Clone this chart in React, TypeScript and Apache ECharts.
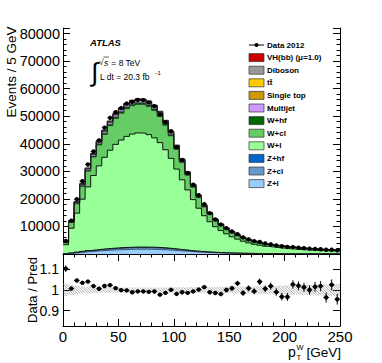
import React, { useEffect, useRef } from 'react';
import * as echarts from 'echarts';

// bin lower edges [GeV], 5 GeV bins
const binLow = [0,5,10,15,20,25,30,35,40,45,50,55,60,65,70,75,80,85,90,95,100,105,110,115,120,125,130,135,140,145,150,155,160,165,170,175,180,185,190,195,200,205,210,215,220,225,230,235,240,245];
const binWidth = 5;

// MC components (events / 5 GeV), stack order bottom -> top
const zl = [60,250,450,650,850,1000,1150,1280,1400,1500,1580,1650,1700,1720,1720,1700,1650,1580,1480,1350,1200,1050,900,770,650,550,470,400,340,290,250,215,185,160,140,125,110,100,90,82,75,68,62,57,52,48,44,41,38,35];
const zcl = [20,90,160,230,300,350,400,450,490,520,550,575,590,600,600,590,575,550,515,470,420,365,315,270,228,193,165,140,120,102,88,75,65,56,49,44,39,35,32,29,26,24,22,20,18,17,15,14,13,12];
const zhf = [8,30,55,80,100,120,140,155,170,180,190,198,204,206,206,204,198,190,178,162,144,126,108,92,78,66,56,48,41,35,30,26,22,19,17,15,13,12,11,10,9,8,7,7,6,6,5,5,4,4];
const wl = [3270,8990,14150,18930,23090,27000,30290,33200,35600,37580,39020,40240,41030,41390,41310,40800,39700,38080,35660,32730,29050,25370,21920,18600,15660,13080,11010,9320,8000,6900,5870,5070,4360,3790,3320,2970,2650,2410,2200,2000,1825,1690,1530,1430,1330,1225,1160,1090,1025,960];
const wcl = [735,2130,3410,4630,5700,6690,7530,8280,8870,9360,9720,10040,10240,10340,10320,10190,9920,9510,8890,8140,7190,6250,5370,4530,3780,3130,2620,2200,1870,1600,1450,1240,1140,980,910,810,770,700,640,620,565,525,505,470,435,405,380,360,340,315];
const whf = [50,130,210,280,340,400,450,490,530,560,580,600,610,615,615,610,595,570,535,490,440,385,335,285,240,200,170,145,125,108,94,82,72,63,56,50,45,41,37,34,31,29,27,25,23,21,20,19,18,17];
const multijet = [120,260,360,430,490,540,590,640,690,730,760,780,790,790,780,760,730,690,640,580,510,440,370,310,255,210,175,145,120,100,85,72,61,52,45,39,34,30,26,23,20,18,16,14,13,12,11,10,9,8];
const singleTop = [10,30,50,65,80,95,105,115,125,130,135,140,142,143,143,142,140,136,130,123,115,106,97,88,80,72,65,58,52,47,42,38,34,31,28,25,23,21,19,18,16,15,14,13,12,11,10,10,9,9];
const ttbar = [15,40,70,95,120,145,165,185,200,215,228,238,246,252,256,258,258,256,252,246,238,228,217,205,192,179,166,153,141,130,120,110,101,93,86,79,73,67,62,57,53,49,45,42,39,36,33,31,29,27];
const diboson = [15,45,75,100,125,145,165,180,195,205,215,222,226,228,228,226,222,215,205,193,180,165,150,136,122,109,97,87,78,70,63,57,52,47,43,39,36,33,30,28,26,24,22,21,19,18,17,16,15,14];
const vh = [1,3,5,7,9,11,13,15,16,17,18,19,20,20,20,20,20,19,19,18,17,16,15,14,13,12,11,10,9,8.5,8,7.5,7,6.5,6,5.5,5,4.7,4.4,4.1,3.8,3.5,3.3,3.1,2.9,2.7,2.5,2.4,2.3,2.2];

// Data 2012
const data2012 = [4750,12080,19870,26390,32480,37190,41250,45860,49410,51460,52950,54590,55190,55910,55810,55000,53620,50610,47820,44540,38750,34120,29380,25120,21340,18050,14840,12520,10680,9390,8170,7220,6010,5340,4670,4370,3820,3520,3120,2810,2560,2520,2300,2130,1950,1830,1730,1540,1540,1340];

// relative systematic uncertainty (hatched band in ratio)
const sysUnc = [0.03,0.025,0.02,0.018,0.016,0.015,0.014,0.013,0.013,0.012,0.012,0.012,0.012,0.012,0.012,0.012,0.012,0.012,0.012,0.012,0.013,0.013,0.013,0.014,0.014,0.014,0.015,0.015,0.015,0.016,0.016,0.017,0.017,0.018,0.018,0.019,0.019,0.02,0.02,0.021,0.022,0.022,0.023,0.024,0.025,0.026,0.027,0.028,0.029,0.03];

const xTicks = [0, 50, 100, 150, 200, 250];
const yTicksMain = [10000, 20000, 30000, 40000, 50000, 60000, 70000, 80000];
const yTicksRatio = [0.9, 1, 1.1];

const stackNames = ['Z+l', 'Z+cl', 'Z+hf', 'W+l', 'W+cl', 'W+hf', 'Multijet', 'Single top', 'tt\u0304', 'Diboson', 'VH(bb) (\u03bc=1.0)'];
const stackValues = [zl, zcl, zhf, wl, wcl, whf, multijet, singleTop, ttbar, diboson, vh];
const stackColors = ['#99ccff', '#6699cc', '#0066cc', '#99ff99', '#66cc66', '#006600', '#cc99ff', '#cc9900', '#ffcc00', '#999999', '#cc0000'];

const FONT = '"Liberation Sans", Arial, sans-serif';

function renderPoint(params: any, api: any) {
  const x0 = api.value(0), x1 = api.value(1), y = api.value(2), e = api.value(3);
  const xc = (x0 + x1) / 2;
  const pl = api.coord([x0, y]);
  const pr = api.coord([x1, y]);
  const pt = api.coord([xc, y + e]);
  const pb = api.coord([xc, y - e]);
  const c = api.coord([xc, y]);
  return {
    type: 'group',
    children: [
      { type: 'line', shape: { x1: pl[0], y1: pl[1], x2: pr[0], y2: pr[1] }, style: { stroke: '#000', lineWidth: 1 } },
      { type: 'line', shape: { x1: pt[0], y1: pt[1], x2: pb[0], y2: pb[1] }, style: { stroke: '#000', lineWidth: 1 } },
      { type: 'circle', shape: { cx: c[0], cy: c[1], r: 2.2 }, style: { fill: '#000' } },
    ],
  };
}

function renderBand(params: any, api: any) {
  const a = api.coord([api.value(0), api.value(3)]);
  const b = api.coord([api.value(1), api.value(2)]);
  const xL = a[0], xR = b[0], yT = a[1], yB = b[1];
  const sp = 2.6;
  const children: any[] = [];
  const cStart = Math.ceil((yT - xR) / sp) * sp;
  for (let c = cStart; c <= yB - xL; c += sp) {
    const xa = Math.max(xL, yT - c);
    const xb = Math.min(xR, yB - c);
    if (xb > xa) {
      children.push({ type: 'line', shape: { x1: xa, y1: xa + c, x2: xb, y2: xb + c }, style: { stroke: '#777', lineWidth: 0.6 } });
    }
  }
  return { type: 'group', children };
}

const fmt = (v: number) => String(Math.round(v * 1000) / 1000);

function buildOption() {
  const n = binLow.length;
  const pred = binLow.map((_, i) => stackValues.reduce((s, arr) => s + arr[i], 0));

  // cumulative tops of each stacked layer
  const cumulative: number[][] = [];
  stackValues.forEach((vals, si) => {
    cumulative.push(vals.map((v, i) => (si > 0 ? cumulative[si - 1][i] : 0) + v));
  });

  // draw top layer first, bottom layer last (each filled down to 0)
  const stackSeries = stackValues.map((_, si) => {
    const tops = cumulative[si];
    return {
      type: 'line',
      name: stackNames[si],
      xAxisIndex: 0,
      yAxisIndex: 0,
      step: 'end',
      symbol: 'none',
      silent: true,
      z: 2,
      lineStyle: { color: si === 3 || si === 2 ? '#000' : '#222', width: si === 3 || si === 2 ? 0.9 : 0.6 },
      areaStyle: { color: stackColors[si], opacity: 1, origin: 'start' },
      data: [...binLow.map((x, i) => [x, tops[i]]), [binLow[n - 1] + binWidth, tops[n - 1]]],
    };
  }).reverse();

  const mainPoints = binLow.map((x, i) => [x, x + binWidth, data2012[i], Math.sqrt(data2012[i])]);
  const ratioPoints = binLow.map((x, i) => [x, x + binWidth, data2012[i] / pred[i], Math.sqrt(data2012[i]) / pred[i]]);
  const bandData = binLow.map((x, i) => [x, x + binWidth, 1 - sysUnc[i], 1 + sysUnc[i]]);

  const axisLine = { show: true, lineStyle: { color: '#000', width: 1 } };

  const legendItems: any[] = [];
  const legX = 249;
  legendItems.push({ type: 'line', z: 100, shape: { x1: legX, y1: 45, x2: legX + 15, y2: 45 }, style: { stroke: '#000', lineWidth: 1 } });
  legendItems.push({ type: 'circle', z: 100, shape: { cx: legX + 7.5, cy: 45, r: 2 }, style: { fill: '#000' } });
  legendItems.push({ type: 'text', z: 100, x: 267, y: 45, style: { text: 'Data 2012', font: `bold 8px ${FONT}`, fill: '#000', textVerticalAlign: 'middle', verticalAlign: 'middle' } });
  const legendOrder = [10, 9, 8, 7, 6, 5, 4, 3, 2, 1, 0];
  legendOrder.forEach((si, k) => {
    const yc = 57.6 + 12.6 * k;
    legendItems.push({ type: 'rect', z: 100, shape: { x: legX, y: yc - 4, width: 15, height: 8 }, style: { fill: stackColors[si], stroke: '#333', lineWidth: 0.7 } });
    legendItems.push({ type: 'text', z: 100, x: 267, y: yc, style: { text: stackNames[si], font: `bold 8px ${FONT}`, fill: '#000', textVerticalAlign: 'middle', verticalAlign: 'middle' } });
  });

  const texts: any[] = [
    { type: 'text', x: 90, y: 42, style: { text: 'ATLAS', font: `italic bold 9.5px ${FONT}`, fill: '#000', textVerticalAlign: 'middle', verticalAlign: 'middle' } },
    { type: 'text', x: 94.5, y: 72, style: { text: '\u222b', font: `26px ${FONT}`, fill: '#000', textAlign: 'center', align: 'center', textVerticalAlign: 'middle', verticalAlign: 'middle' } },
    { type: 'text', x: 99, y: 62, style: { text: '\u221a', font: `8.5px ${FONT}`, fill: '#000', textVerticalAlign: 'middle', verticalAlign: 'middle' } },
    { type: 'line', shape: { x1: 103.5, y1: 57, x2: 109, y2: 57 }, style: { stroke: '#000', lineWidth: 0.6 } },
    { type: 'text', x: 104, y: 62.5, style: { text: 's', font: `italic 8.5px ${FONT}`, fill: '#000', textVerticalAlign: 'middle', verticalAlign: 'middle' } },
    { type: 'text', x: 109, y: 62.5, style: { text: ' = 8 TeV', font: `8.5px ${FONT}`, fill: '#000', textVerticalAlign: 'middle', verticalAlign: 'middle' } },
    { type: 'text', x: 100, y: 77, style: { text: 'L dt = 20.3 fb', font: `8.5px ${FONT}`, fill: '#000', textVerticalAlign: 'middle', verticalAlign: 'middle' } },
    { type: 'text', x: 155.5, y: 72.5, style: { text: '-1', font: `6px ${FONT}`, fill: '#000', textVerticalAlign: 'middle', verticalAlign: 'middle' } },
    { type: 'text', x: 11.5, y: 72, rotation: Math.PI / 2, style: { text: 'Events / 5 GeV', font: `13.5px ${FONT}`, fill: '#000', textAlign: 'center', align: 'center', textVerticalAlign: 'middle', verticalAlign: 'middle' } },
    { type: 'text', x: 32, y: 290, rotation: Math.PI / 2, style: { text: 'Data / Pred', font: `13px ${FONT}`, fill: '#000', textAlign: 'center', align: 'center', textVerticalAlign: 'middle', verticalAlign: 'middle' } },
    { type: 'text', x: 288, y: 352, style: { text: 'p', font: `14px ${FONT}`, fill: '#000', textVerticalAlign: 'middle', verticalAlign: 'middle' } },
    { type: 'text', x: 296.5, y: 347, style: { text: 'W', font: `7.5px ${FONT}`, fill: '#000', textVerticalAlign: 'middle', verticalAlign: 'middle' } },
    { type: 'text', x: 296.5, y: 357.5, style: { text: 'T', font: `7.5px ${FONT}`, fill: '#000', textVerticalAlign: 'middle', verticalAlign: 'middle' } },
    { type: 'text', x: 341, y: 352, style: { text: '[GeV]', font: `13.5px ${FONT}`, fill: '#000', textAlign: 'right', align: 'right', textVerticalAlign: 'middle', verticalAlign: 'middle' } },
  ];

  return {
    animation: false,
    backgroundColor: '#fff',
    textStyle: { fontFamily: FONT },
    grid: [
      { left: 63, right: 42, top: 28, height: 226, containLabel: false, outerBoundsMode: 'none' },
      { left: 63, right: 42, top: 254, height: 72, containLabel: false, outerBoundsMode: 'none' },
    ],
    xAxis: [
      {
        type: 'value', gridIndex: 0, position: 'top', min: 0, max: 250, interval: 50,
        axisLine, splitLine: { show: false }, axisLabel: { show: false },
        axisTick: { show: true, inside: true, length: 7, lineStyle: { color: '#000' } },
        minorTick: { show: true, splitNumber: 5, length: 3.5, lineStyle: { color: '#000' } },
      },
      {
        type: 'value', gridIndex: 1, position: 'bottom', min: 0, max: 250, interval: 50,
        axisLine, splitLine: { show: false },
        axisLabel: { show: true, color: '#000', fontSize: 15, fontFamily: FONT, margin: 3, customValues: xTicks, formatter: fmt },
        axisTick: { show: true, inside: true, length: 7, lineStyle: { color: '#000' } },
        minorTick: { show: true, splitNumber: 5, length: 3.5, lineStyle: { color: '#000' } },
      },
    ],
    yAxis: [
      {
        type: 'value', gridIndex: 0, position: 'left', min: 0, max: 82000, interval: 10000,
        axisLine, splitLine: { show: false },
        axisLabel: { show: true, color: '#000', fontSize: 14.5, fontFamily: FONT, margin: 3, customValues: yTicksMain, formatter: fmt },
        axisTick: { show: true, inside: true, length: 7, lineStyle: { color: '#000' } },
        minorTick: { show: true, splitNumber: 5, length: 3.5, lineStyle: { color: '#000' } },
      },
      {
        type: 'value', gridIndex: 0, position: 'right', min: 0, max: 82000, interval: 10000,
        axisLine, splitLine: { show: false }, axisLabel: { show: false },
        axisTick: { show: true, inside: true, length: 7, lineStyle: { color: '#000' } },
        minorTick: { show: true, splitNumber: 5, length: 3.5, lineStyle: { color: '#000' } },
      },
      {
        type: 'value', gridIndex: 1, position: 'left', min: 0.825, max: 1.175,
        axisLine, splitLine: { show: false },
        axisLabel: { show: true, color: '#000', fontSize: 14, fontFamily: FONT, margin: 4, customValues: yTicksRatio, formatter: fmt },
        axisTick: { show: true, inside: true, length: 7, lineStyle: { color: '#000' }, customValues: yTicksRatio },
      },
      {
        type: 'value', gridIndex: 1, position: 'right', min: 0.825, max: 1.175,
        axisLine, splitLine: { show: false }, axisLabel: { show: false },
        axisTick: { show: true, inside: true, length: 7, lineStyle: { color: '#000' }, customValues: yTicksRatio },
      },
    ],
    series: [
      ...stackSeries,
      {
        type: 'custom', name: 'Data 2012', xAxisIndex: 0, yAxisIndex: 0, z: 5, silent: true,
        renderItem: renderPoint, encode: { x: [0, 1], y: 2 }, data: mainPoints,
      },
      {
        type: 'custom', name: 'Uncertainty', xAxisIndex: 1, yAxisIndex: 2, z: 3, silent: true,
        renderItem: renderBand, encode: { x: [0, 1], y: [2, 3] }, data: bandData,
      },
      {
        type: 'custom', name: 'Data / Pred', xAxisIndex: 1, yAxisIndex: 2, z: 5, silent: true, clip: true,
        renderItem: renderPoint, encode: { x: [0, 1], y: 2 }, data: ratioPoints,
      },
    ],
    graphic: { elements: [...texts, ...legendItems] },
  };
}

export default function App() {
  const ref = useRef<HTMLDivElement>(null);
  useEffect(() => {
    if (!ref.current) return;
    const chart = echarts.init(ref.current, null, { renderer: 'svg' });
    chart.setOption(buildOption() as any);
    return () => chart.dispose();
  }, []);
  return <div ref={ref} style={{ position: 'absolute', left: 0, top: 0, width: 382, height: 363 }} />;
}
